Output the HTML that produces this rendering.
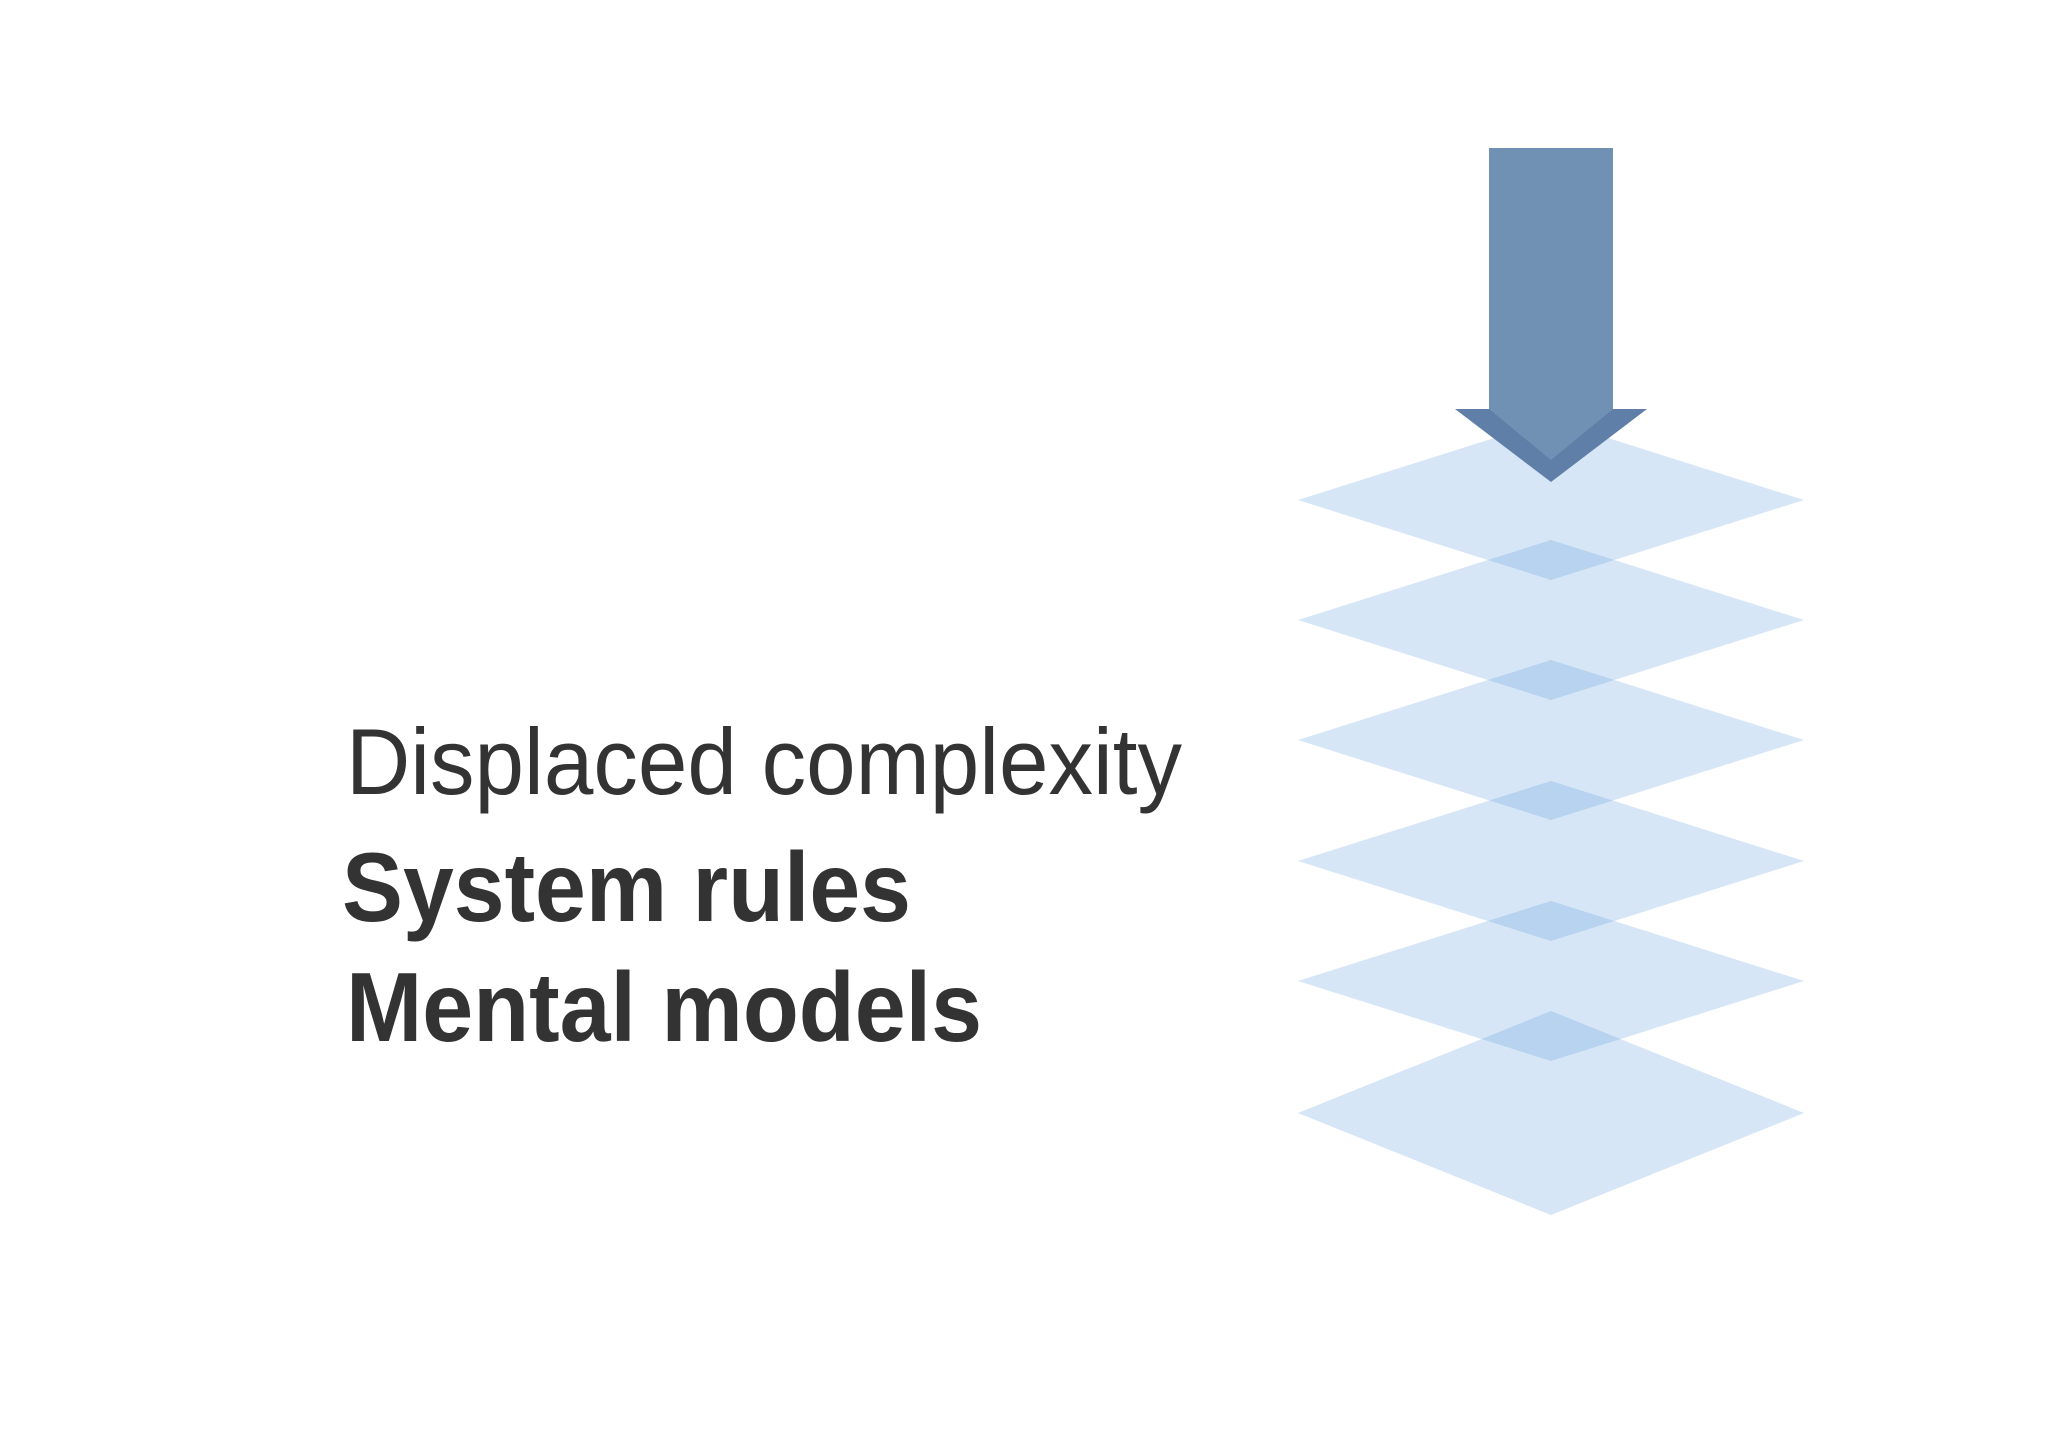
<!DOCTYPE html>
<html><head><meta charset="utf-8"><style>html,body{margin:0;padding:0;background:#fff}svg{display:block}</style></head>
<body>
<svg width="2048" height="1448" viewBox="0 0 2048 1448" xmlns="http://www.w3.org/2000/svg">
<rect width="2048" height="1448" fill="#fff"/>
<g fill="rgb(102,162,221)" fill-opacity="0.268">
<polygon points="1298,500 1551,420 1804,500 1551,580"/>
<polygon points="1298,620 1551,540 1804,620 1551,700"/>
<polygon points="1298,740 1551,660 1804,740 1551,820"/>
<polygon points="1298,861 1551,781 1804,861 1551,941"/>
<polygon points="1298,981 1551,901 1804,981 1551,1061"/>
<polygon points="1298,1113 1551,1011 1804,1113 1551,1215"/>
</g>
<polygon points="1455,409 1647,409 1551,482" fill="#5f7fa8"/>
<polygon points="1489,148 1613,148 1613,409 1551,460 1489,409" fill="#7090b4"/>
<g font-family="'Liberation Sans', sans-serif" fill="#333">
<text x="346" y="794" font-size="94" font-weight="normal" textLength="836" lengthAdjust="spacingAndGlyphs">Displaced complexity</text>
<text x="342" y="921" font-size="98" font-weight="bold" textLength="569" lengthAdjust="spacingAndGlyphs">System rules</text>
<text x="346" y="1041" font-size="98" font-weight="bold" textLength="636" lengthAdjust="spacingAndGlyphs">Mental models</text>
</g>
</svg>
</body></html>
